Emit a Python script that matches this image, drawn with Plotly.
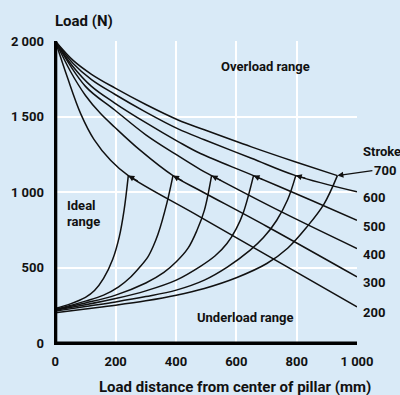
import plotly.graph_objects as go

# ---------------- data ----------------
strokes = [200, 300, 400, 500, 600, 700]

# descending (overload boundary) curves, load N vs distance mm
fall_200_x = [0, 40, 84, 128, 184, 242, 481, 1000]
fall_200_y = [2000, 1760, 1520, 1350, 1210, 1110, 836, 242]
fall_300_x = [0, 50, 100, 150, 197, 280, 390, 481, 700, 1000]
fall_300_y = [2000, 1800, 1640, 1520, 1430, 1280, 1110, 1010, 775, 440]
fall_400_x = [0, 100, 197, 300, 400, 481, 518, 750, 1000]
fall_400_y = [2000, 1700, 1544, 1380, 1250, 1150, 1110, 870, 628]
fall_500_x = [0, 55, 120, 197, 300, 407, 481, 657, 850, 1000]
fall_500_y = [2000, 1840, 1700, 1590, 1460, 1335, 1256, 1110, 945, 815]
fall_600_x = [0, 60, 120, 197, 300, 407, 494, 650, 797, 1000]
fall_600_y = [2000, 1850, 1745, 1648, 1530, 1419, 1347, 1225, 1110, 1003]
fall_700_x = [0, 60, 120, 197, 300, 407, 494, 650, 797, 935]
fall_700_y = [2000, 1870, 1780, 1690, 1580, 1478, 1413, 1300, 1200, 1110]

# rising (underload boundary) curves
rise_200_x = [0, 50, 100, 130, 160, 190, 212, 228, 242]
rise_200_y = [231, 262, 305, 350, 430, 555, 705, 882, 1110]
rise_300_x = [0, 100, 160, 210, 250, 280, 307, 325, 340, 370, 390]
rise_300_y = [225, 280, 320, 375, 440, 505, 573, 645, 720, 930, 1110]
rise_400_x = [0, 100, 200, 300, 360, 401, 440, 470, 494, 518]
rise_400_y = [224, 268, 320, 400, 470, 540, 630, 750, 880, 1110]
rise_500_x = [0, 100, 200, 300, 401, 481, 530, 569, 600, 624, 657]
rise_500_y = [220, 256, 297, 348, 419, 510, 580, 661, 760, 870, 1110]
rise_600_x = [0, 100, 200, 300, 401, 494, 570, 646, 690, 734, 770, 797]
rise_600_y = [214, 245, 275, 310, 353, 419, 505, 617, 700, 815, 950, 1110]
rise_700_x = [0, 100, 200, 300, 401, 494, 600, 701, 770, 834, 890, 935]
rise_700_y = [203, 228, 253, 282, 319, 364, 435, 529, 630, 771, 920, 1110]

x_ticks = [0, 200, 400, 600, 800, 1000]
x_tick_text = ["0", "200", "400", "600", "800", "1 000"]
y_ticks = [0, 500, 1000, 1500, 2000]
y_tick_text = ["0", "500", "1 000", "1 500", "2 000"]

falls = {200: (fall_200_x, fall_200_y), 300: (fall_300_x, fall_300_y),
         400: (fall_400_x, fall_400_y), 500: (fall_500_x, fall_500_y),
         600: (fall_600_x, fall_600_y), 700: (fall_700_x, fall_700_y)}
rises = {200: (rise_200_x, rise_200_y), 300: (rise_300_x, rise_300_y),
         400: (rise_400_x, rise_400_y), 500: (rise_500_x, rise_500_y),
         600: (rise_600_x, rise_600_y), 700: (rise_700_x, rise_700_y)}

# ---------------- style / layout ----------------
BG = "#d9eaf7"
INK = "#111111"
FONT = "Roboto"
W_PX, H_PX = 400, 395
ML, MR, MT, MB = 54, 43, 41, 50
PW, PH = W_PX - ML - MR, H_PX - MT - MB
X_RANGE = [-4.3, 1000]
Y_RANGE = [-10, 2000]


def paper(px, py):
    return (px - ML) / PW, 1 - (py - MT) / PH


def px_per_unit():
    return PW / (X_RANGE[1] - X_RANGE[0]), PH / (Y_RANGE[1] - Y_RANGE[0])


fig = go.Figure()
for s in strokes:
    fx, fy = falls[s]
    rx, ry = rises[s]
    fig.add_trace(go.Scatter(x=fx, y=fy, mode="lines", hoverinfo="skip",
                             line=dict(color=INK, width=1.5, shape="spline", smoothing=1.0)))
    fig.add_trace(go.Scatter(x=rx, y=ry, mode="lines", hoverinfo="skip",
                             line=dict(color=INK, width=1.5, shape="spline", smoothing=1.0)))

# thick axis lines
fig.add_trace(go.Scatter(x=[0, 0, 1000], y=[2000, 0, 0], mode="lines", hoverinfo="skip",
                         line=dict(color="#000000", width=4)))

annotations = []
kx, ky = px_per_unit()
txt = dict(family=FONT, size=13, color=INK, weight="bold")
for s in strokes:
    fx, fy = falls[s]
    rx, ry = rises[s]
    jx, jy = rx[-1], ry[-1]
    i = fx.index(jx)
    if s == 700:
        annotations.append(dict(x=jx, y=jy, xref="x", yref="y", text="700", showarrow=True,
                                ax=35, ay=-5, arrowhead=2, arrowsize=1.0, arrowwidth=1.2,
                                arrowcolor=INK, font=txt, xanchor="left"))
    else:
        slope = (fy[i + 1] - fy[i]) / (fx[i + 1] - fx[i])
        dx = 11
        dy = -slope * ky / kx * dx
        annotations.append(dict(x=jx, y=jy, xref="x", yref="y", text="", showarrow=True,
                                ax=dx, ay=dy, arrowhead=2, arrowsize=1.0, arrowwidth=1.2,
                                arrowcolor=INK))
        annotations.append(dict(x=fx[-1], y=fy[-1], xref="x", yref="y", text=str(s),
                                showarrow=False, xanchor="left", yanchor="middle",
                                xshift=4, yshift=-6, font=txt))


def label(text, px, py, size=13, xanchor="center"):
    x, y = paper(px, py)
    annotations.append(dict(x=x, y=y, xref="paper", yref="paper", text=text, showarrow=False,
                            xanchor=xanchor, yanchor="middle",
                            font=dict(family=FONT, size=size, color=INK, weight="bold")))


label("Load (N)", 52.5, 20.7, size=15, xanchor="left")
label("Load distance from center of pillar (mm)", 235, 387.3, size=15)
label("Overload range", 265, 66)
label("Ideal", 64.5, 205, xanchor="left")
label("range", 64.5, 221, xanchor="left")
label("Underload range", 245.3, 317.5)
label("Stroke", 361, 151.7, xanchor="left")

fig.update_layout(
    width=W_PX, height=H_PX,
    margin=dict(l=ML, r=MR, t=MT, b=MB, pad=0),
    paper_bgcolor=BG, plot_bgcolor=BG,
    showlegend=False,
    annotations=annotations,
    font=dict(family=FONT, size=13, color=INK),
    xaxis=dict(range=X_RANGE, tickvals=x_ticks, ticktext=x_tick_text, showgrid=True,
               gridcolor="#ffffff", gridwidth=1.6, zeroline=False, showline=False,
               ticks="", ticklabelstandoff=7,
               tickfont=dict(family=FONT, size=13, color=INK, weight="bold"), fixedrange=True),
    yaxis=dict(range=Y_RANGE, tickvals=y_ticks, ticktext=y_tick_text, showgrid=True,
               gridcolor="#ffffff", gridwidth=1.6, zeroline=False, showline=False,
               ticks="", ticklabelstandoff=9,
               tickfont=dict(family=FONT, size=13, color=INK, weight="bold"), fixedrange=True),
)

fig.write_html("out.html", config=dict(displayModeBar=False),
               post_script="document.body.style.margin='0';document.body.style.padding='0';"
                           "document.body.style.background='" + BG + "';")
